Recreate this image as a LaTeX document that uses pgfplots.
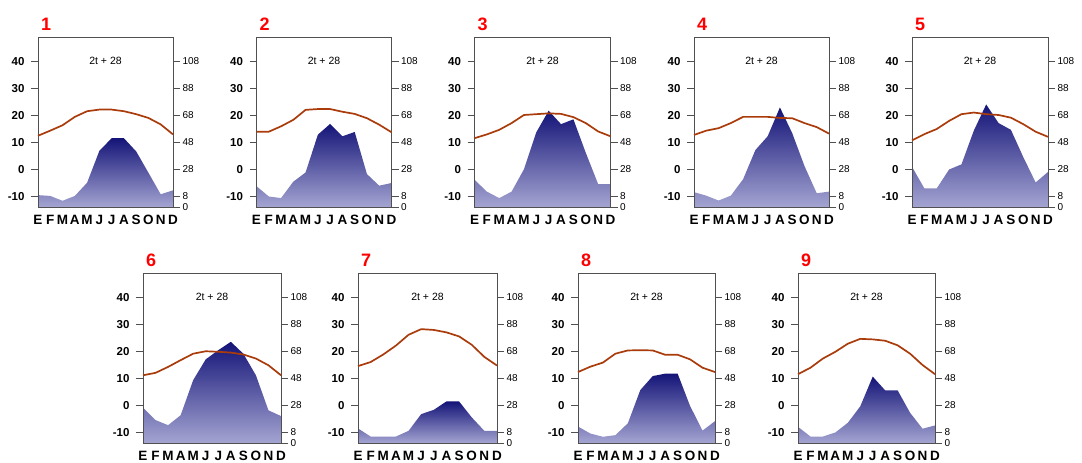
\documentclass[border=0pt]{standalone}
\usepackage{pgfplots}
\pgfplotsset{compat=1.18}
\usepackage{pgfplotstable}
\usepackage{fontspec}
\setmainfont{Liberation Sans}
\definecolor{tline}{RGB}{170,60,12}
\definecolor{ptop}{RGB}{20,20,120}
\definecolor{pbot}{RGB}{164,164,210}
\definecolor{frame}{RGB}{80,80,80}

% m = month index, t = temperature (C), p = precipitation (mm)
\pgfplotstableread{
m t p
0 12.4 8.8
1 14.3 8.2
2 16.3 4.6
3 19.4 8.2
4 21.5 18
5 22.1 41.6
6 22.1 51
7 21.5 51
8 20.4 41.2
9 19.0 25.4
10 16.6 9.4
11 12.9 12.4
}\dataA
\pgfplotstableread{
m t p
0 13.9 15.4
1 13.9 7.8
2 15.9 6.6
3 18.3 18.8
4 22.0 25.6
5 22.3 53.6
6 22.3 61.6
7 21.3 52.4
8 20.5 55.6
9 18.9 24.4
10 16.5 15.8
11 13.7 17.8
}\dataB
\pgfplotstableread{
m t p
0 11.5 20.2
1 12.9 11.4
2 14.6 6.6
3 17.1 11.4
4 20.1 28
5 20.4 55.4
6 20.7 71.4
7 20.5 61.4
8 19.3 65
9 17.1 40.2
10 14.0 17
11 12.2 17
}\dataC
\pgfplotstableread{
m t p
0 12.7 11
1 14.3 8.4
2 15.2 4.8
3 17.1 8.4
4 19.4 20.6
5 19.4 42.2
6 19.4 52.4
7 19.0 73.8
8 18.9 54.8
9 17.1 30.4
10 15.6 10.2
11 13.2 11.4
}\dataD
\pgfplotstableread{
m t p
0 10.7 29.8
1 13.0 13.8
2 14.9 13.8
3 17.9 27.8
4 20.4 31.6
5 21.0 56.6
6 20.4 76
7 20.1 62.2
8 19.1 57.2
9 16.7 37
10 13.9 18.2
11 12.0 26
}\dataE
\pgfplotstableread{
m t p
0 11.1 26.2
1 12.0 17
2 14.2 13.2
3 16.7 20.6
4 19.1 46.6
5 20.0 62
6 19.8 68.8
7 19.5 75
8 18.8 66.2
9 17.3 50.2
10 14.8 24.2
11 11.1 20
}\dataF
\pgfplotstableread{
m t p
0 14.5 10.8
1 16.0 4.8
2 18.8 4.8
3 22.1 4.8
4 26.1 9
5 28.2 21.4
6 27.9 24.6
7 27.0 30.8
8 25.5 30.8
9 22.4 19
10 17.9 9
11 14.7 9
}\dataG
\pgfplotstableread{
m t p
0 12.3 12.2
1 14.3 7
2 15.8 4.6
3 19.1 5.8
4 20.3 14.6
5 20.4 39.2
6 20.3 49.6
7 18.7 51.4
8 18.7 51.4
9 17.0 27.4
10 13.9 9.2
11 12.3 16.2
}\dataH
\pgfplotstableread{
m t p
0 11.5 12
1 13.9 4.8
2 17.3 4.8
3 19.8 7.8
4 22.8 15
5 24.6 27.2
6 24.4 49.2
7 23.9 39
8 22.2 39
9 19.1 22.4
10 14.9 10.6
11 11.5 13
}\dataI

\newcommand\panel[5]{%
\begin{axis}[at={(#1pt,-#2pt)},anchor=north west,scale only axis,
  width=#3pt,height=170pt,
  xmin=0,xmax=11,ymin=0,ymax=126,
  axis x line=none, axis y line*=right,
  ytick={0,8,28,48,68,88,108}, yticklabels={0,8,28,48,68,88,108},
  tick align=outside, major tick length=7pt,
  y axis line style={frame}, ytick style={frame},
  yticklabel style={font=\fontsize{10}{10}\selectfont, xshift=-1pt}]
\addplot[draw=none, top color=ptop, bottom color=pbot] table[x=m,y=p]{#4} \closedcycle;
\end{axis}
\begin{axis}[at={(#1pt,-#2pt)},anchor=north west,scale only axis,
  width=#3pt,height=170pt,
  xmin=0,xmax=11,ymin=-14,ymax=49, clip=false,
  axis line style={frame},
  ytick={-10,0,10,20,30,40}, yticklabels={-10,0,10,20,30,40},
  ytick pos=left, tick align=outside, major tick length=7pt,
  ytick style={frame},
  yticklabel style={font=\bfseries\fontsize{11.5}{12}\selectfont, xshift=-3pt},
  xtick={0,...,11}, xticklabels={E,F,M,A,M,J,J,A,S,O,N,D},
  xtick style={draw=none},
  xticklabel style={font=\bfseries\fontsize{13.5}{14}\selectfont, inner sep=0pt, yshift=-1pt}]
\addplot[tline, line width=1.7pt] table[x=m,y=t]{#4};
\node[font=\fontsize{10.5}{11}\selectfont] at (axis cs:5.5,40) {2t + 28};
\node[anchor=south west, inner sep=0pt, text=red, xshift=3pt, yshift=6pt,
  font=\bfseries\fontsize{18}{18}\selectfont] at (rel axis cs:0,1) {#5};
\end{axis}}

\begin{document}
\begin{tikzpicture}
\path[use as bounding box] (0,0) rectangle (1082pt,-463pt);
\panel{38}{37}{135}{\dataA}{1}
\panel{256.5}{37}{135}{\dataB}{2}
\panel{474.5}{37}{136}{\dataC}{3}
\panel{694}{37}{135}{\dataD}{4}
\panel{912}{37}{136}{\dataE}{5}
\panel{143}{273}{138}{\dataF}{6}
\panel{358}{273}{139}{\dataG}{7}
\panel{578}{273}{137}{\dataH}{8}
\panel{798}{273}{137}{\dataI}{9}
\end{tikzpicture}
\end{document}
